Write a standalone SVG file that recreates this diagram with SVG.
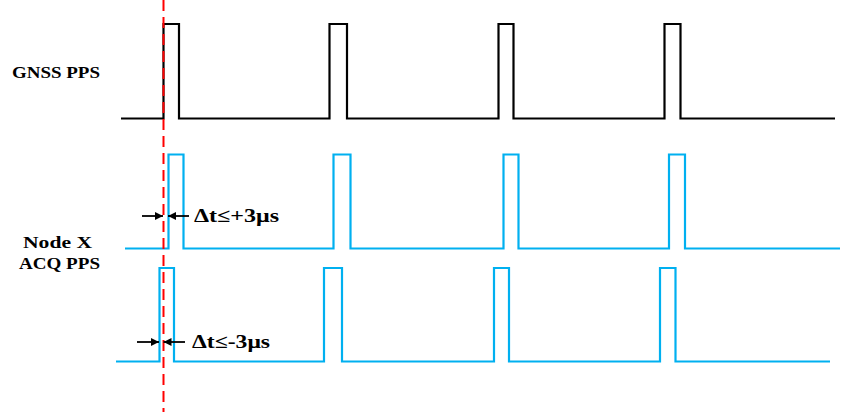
<svg xmlns="http://www.w3.org/2000/svg" width="842" height="417" viewBox="0 0 842 417">
<style>
.lbl{font-family:"Liberation Serif","Times New Roman",serif;font-weight:bold;font-size:17px;fill:#000}
.dl{font-family:"Liberation Serif","Times New Roman",serif;font-weight:bold;font-size:19px;fill:#000}
.sig{fill:none;stroke-width:2.2;stroke-linejoin:miter}
.blk{stroke:#000}
.blu{stroke:#00b0f0}
.arr{stroke:#000;stroke-width:1.8;fill:none}
</style>
<defs>
<marker id="ah" viewBox="0 0 10 10" refX="10" refY="5" markerWidth="8" markerHeight="8" orient="auto" markerUnits="userSpaceOnUse">
<path d="M0,0 L10,5 L0,10 Z" fill="#000"/>
</marker>
</defs>
<rect width="842" height="417" fill="#fff"/>
<g id="gnss-label"><text class="lbl" x="56" y="78" text-anchor="middle" textLength="88" lengthAdjust="spacingAndGlyphs">GNSS PPS</text></g>
<g id="node-label">
<text class="lbl" x="57.5" y="248" text-anchor="middle" textLength="69" lengthAdjust="spacingAndGlyphs">Node X</text>
<text class="lbl" x="59.5" y="269" text-anchor="middle" textLength="81" lengthAdjust="spacingAndGlyphs">ACQ PPS</text>
</g>
<g id="gnss-pps">
<path class="sig blk" d="M121,118.5 H163.5 V24 H179 V118.5 H329.5 V24 H347 V118.5 H498.5 V24 H513.5 V118.5 H664.5 V24 H680.5 V118.5 H835"/>
</g>
<g id="acq-pps-1">
<path class="sig blu" d="M125,248.5 H168.5 V154.5 H183.5 V248.5 H333.5 V154.5 H350.5 V248.5 H503.5 V154.5 H518.5 V248.5 H669 V154.5 H685 V248.5 H840"/>
</g>
<g id="acq-pps-2">
<path class="sig blu" d="M116,361.5 H159.5 V268 H174 V361.5 H324 V268 H342 V361.5 H494 V268 H509 V361.5 H660 V268 H675.5 V361.5 H830"/>
</g>
<g id="connectors">
<line x1="163.5" y1="0" x2="163.5" y2="412" stroke="#ff0000" stroke-width="2" stroke-dasharray="11,6"/>
<line class="arr" x1="142" y1="216" x2="163" y2="216" marker-end="url(#ah)"/>
<line class="arr" x1="189" y1="216" x2="168" y2="216" marker-end="url(#ah)"/>
<line class="arr" x1="137" y1="342" x2="159" y2="342" marker-end="url(#ah)"/>
<line class="arr" x1="185" y1="342" x2="163.5" y2="342" marker-end="url(#ah)"/>
</g>
<g id="delta-labels">
<text class="dl" x="194" y="222" textLength="85" lengthAdjust="spacingAndGlyphs">Δt≤+3μs</text>
<text class="dl" x="192" y="348" textLength="78" lengthAdjust="spacingAndGlyphs">Δt≤-3μs</text>
</g>
</svg>
